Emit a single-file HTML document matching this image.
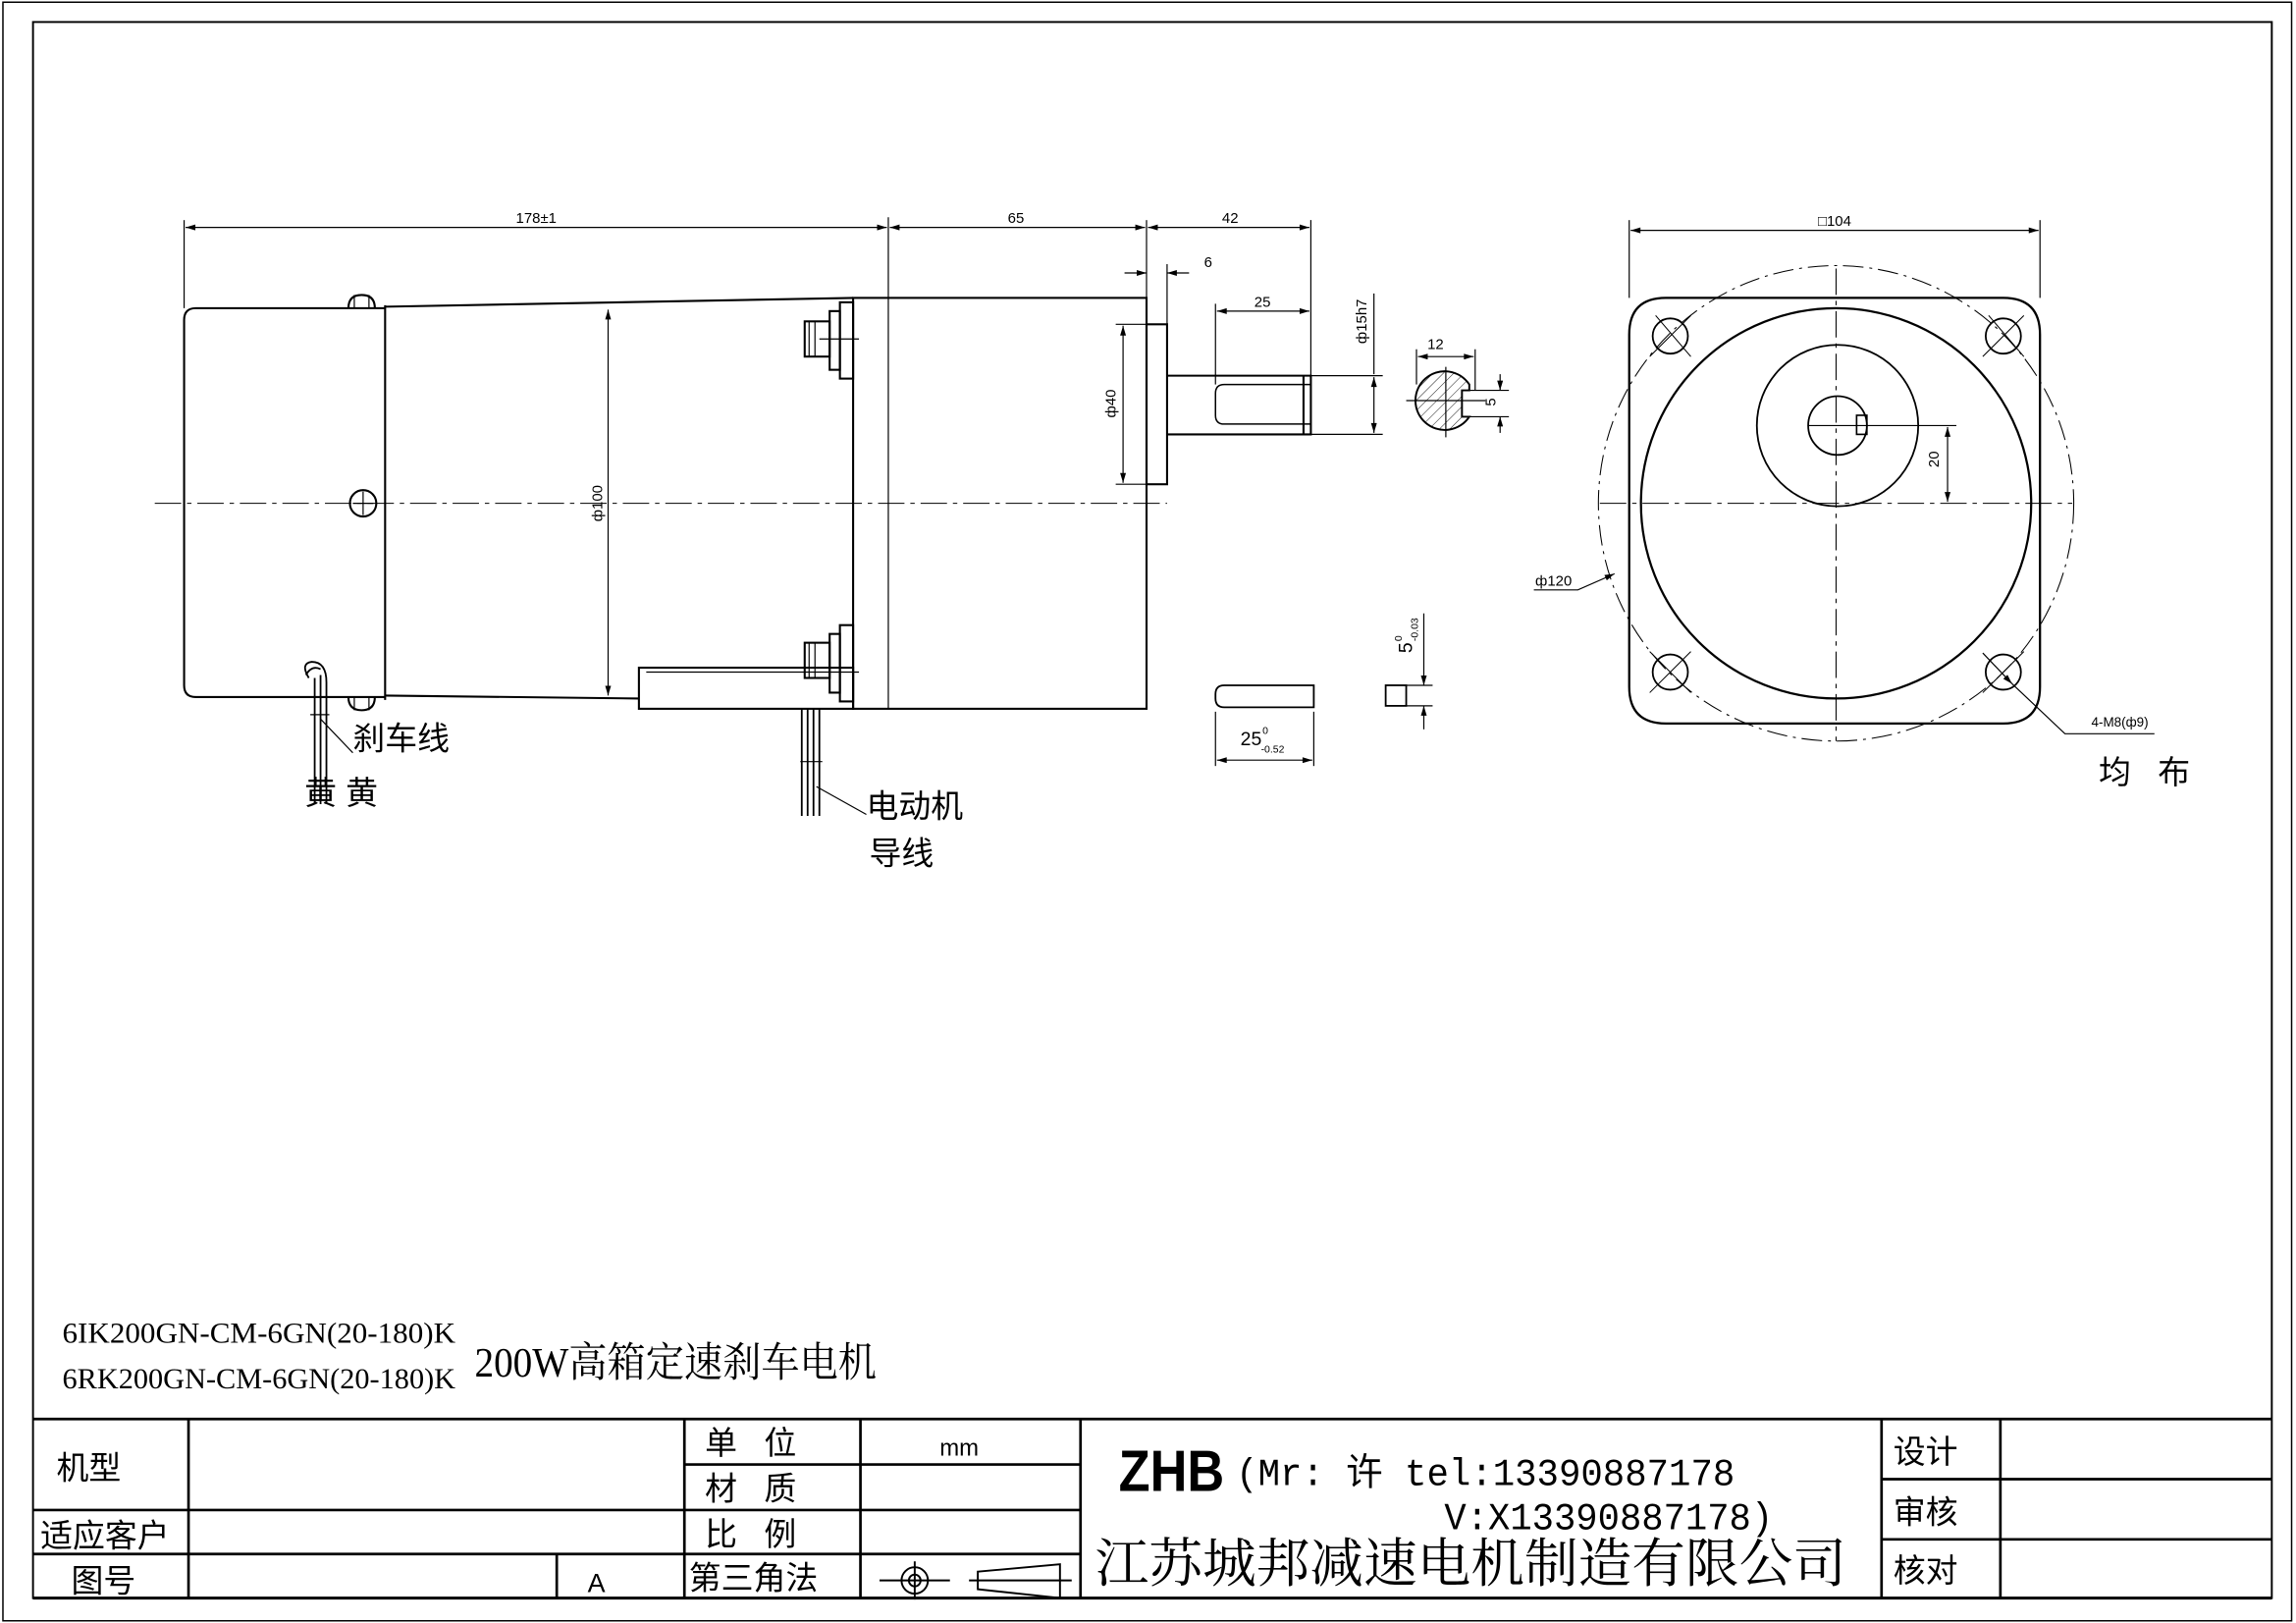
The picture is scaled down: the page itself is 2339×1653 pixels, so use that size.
<!DOCTYPE html>
<html><head><meta charset="utf-8"><style>html,body{margin:0;padding:0;background:#fff}svg{display:block}text{white-space:pre}</style></head>
<body>
<svg width="2339" height="1653" viewBox="0 0 1564 1106" xmlns="http://www.w3.org/2000/svg" font-family="Liberation Sans, Noto Sans CJK SC, sans-serif">
<defs>
<marker id="a" viewBox="0 0 10 6" refX="10" refY="3" markerWidth="8" markerHeight="4" orient="auto-start-reverse" markerUnits="userSpaceOnUse"><path d="M0,0L10,3L0,6z" fill="#000"/></marker>
<pattern id="h" width="5" height="5" patternUnits="userSpaceOnUse" patternTransform="rotate(45)"><line x1="0" y1="0" x2="0" y2="5" stroke="#000" stroke-width="0.6"/></pattern>
</defs>
<g fill="none" stroke="#000">
<rect x="1.5" y="1.5" width="1560" height="1103" stroke-width="1"/>
<rect x="22" y="15" width="1526" height="1074" stroke-width="1.3"/>
<g stroke-width="1.8">
<line x1="22" y1="967" x2="1548" y2="967"/>
<line x1="128" y1="967" x2="128" y2="1089"/>
<line x1="466" y1="967" x2="466" y2="1089"/>
<line x1="586" y1="967" x2="586" y2="1089"/>
<line x1="736" y1="967" x2="736" y2="1089"/>
<line x1="1282" y1="967" x2="1282" y2="1089"/>
<line x1="1363" y1="967" x2="1363" y2="1089"/>
<line x1="466" y1="998" x2="736" y2="998"/>
<line x1="22" y1="1029" x2="736" y2="1029"/>
<line x1="22" y1="1059" x2="736" y2="1059"/>
<line x1="379" y1="1059" x2="379" y2="1089"/>
<line x1="1282" y1="1008" x2="1548" y2="1008"/>
<line x1="1282" y1="1049" x2="1548" y2="1049"/>
<line x1="22" y1="1089" x2="1548" y2="1089" stroke-width="2"/>
</g>
<g stroke-width="1.3">
<circle cx="623" cy="1077" r="9"/><circle cx="623" cy="1077" r="4"/>
<line x1="599" y1="1077" x2="647" y2="1077"/><line x1="623" y1="1064" x2="623" y2="1090"/>
<path d="M666,1071L722,1066L722,1089L666,1083z"/><line x1="660" y1="1077" x2="730" y2="1077"/>
</g>

<line x1="105" y1="343" x2="795" y2="343" stroke-width="0.7" stroke-dasharray="18,4,3,4"/>
<g stroke-width="1.4">
<path d="M262,210L133,210Q125,210 125,218L125,467Q125,475 133,475L262,475"/>
<line x1="262" y1="208" x2="262" y2="477"/>
<path d="M262,209L581,203"/>
<path d="M262,474L435,476"/>
<path d="M237,210Q237,201 246,201Q255,201 255,210"/>
<path d="M237,475Q237,484 246,484Q255,484 255,475"/>
<circle cx="247" cy="343" r="9"/>
<rect x="435" y="455" width="146" height="28"/>
<rect x="581" y="203" width="200" height="280"/>
<rect x="781" y="221" width="14" height="109"/>
<path d="M795,256L893,256L893,296L795,296"/>
<line x1="888" y1="256" x2="888" y2="296"/>
<path d="M893,262L834,262Q828,262 828,268L828,283Q828,289 834,289L893,289" stroke-width="1"/>
<rect x="548" y="219" width="17" height="24"/><rect x="565" y="212" width="7" height="40"/><rect x="572" y="206" width="9" height="52"/>
<rect x="548" y="438" width="17" height="24"/><rect x="565" y="432" width="7" height="40"/><rect x="572" y="426" width="9" height="52"/>
</g>
<g stroke-width="0.8">
<line x1="240" y1="343" x2="254" y2="343"/><line x1="247" y1="335" x2="247" y2="351"/>
<line x1="241" y1="201" x2="241" y2="210"/><line x1="251" y1="201" x2="251" y2="210"/>
<line x1="241" y1="475" x2="241" y2="484"/><line x1="251" y1="475" x2="251" y2="484"/>
<line x1="551" y1="219" x2="551" y2="243"/><line x1="555" y1="219" x2="555" y2="243"/><line x1="558" y1="231" x2="585" y2="231"/>
<line x1="551" y1="438" x2="551" y2="462"/><line x1="555" y1="438" x2="555" y2="462"/><line x1="440" y1="458" x2="585" y2="458"/>
<line x1="605" y1="148" x2="605" y2="483"/>
<g stroke-width="1.2">
<path d="M210,462Q204,452 212,451Q222,451 222,465L222,548M214,462L214,548M218,460L218,548M208,460Q212,453 218,456"/>
<path d="M546,483L546,556M550,483L550,556M554,483L554,556M558,483L558,556"/>
</g>
<line x1="211" y1="487" x2="224" y2="487"/>
<line x1="218" y1="490" x2="240" y2="513"/>
<line x1="545" y1="519" x2="560" y2="519"/>
<line x1="556" y1="536" x2="590" y2="555"/>
<line x1="125" y1="150" x2="125" y2="210"/><line x1="781" y1="150" x2="781" y2="203"/><line x1="893" y1="150" x2="893" y2="256"/>
<line x1="126" y1="155" x2="604" y2="155" marker-start="url(#a)" marker-end="url(#a)"/>
<line x1="606" y1="155" x2="780" y2="155" marker-start="url(#a)" marker-end="url(#a)"/>
<line x1="782" y1="155" x2="892" y2="155" marker-start="url(#a)" marker-end="url(#a)"/>
<line x1="795" y1="180" x2="795" y2="221"/>
<line x1="766" y1="186" x2="781" y2="186" marker-end="url(#a)"/><line x1="810" y1="186" x2="795" y2="186" marker-end="url(#a)"/>
<line x1="828" y1="207" x2="828" y2="262"/>
<line x1="829" y1="212" x2="892" y2="212" marker-start="url(#a)" marker-end="url(#a)"/>
<line x1="893" y1="256" x2="942" y2="256"/><line x1="893" y1="296" x2="942" y2="296"/>
<line x1="936" y1="200" x2="936" y2="255" /><line x1="936" y1="257" x2="936" y2="295" marker-start="url(#a)" marker-end="url(#a)"/>
<line x1="760" y1="221" x2="781" y2="221"/><line x1="760" y1="330" x2="781" y2="330"/>
<line x1="765" y1="222" x2="765" y2="329" marker-start="url(#a)" marker-end="url(#a)"/>
<line x1="414" y1="211" x2="414" y2="474" marker-start="url(#a)" marker-end="url(#a)"/>
<path d="M895,467L834,467Q828,467 828,473L828,476Q828,482 834,482L895,482Z" stroke-width="1.2"/>
<line x1="828" y1="485" x2="828" y2="522"/><line x1="895" y1="485" x2="895" y2="522"/>
<line x1="829" y1="518" x2="894" y2="518" marker-start="url(#a)" marker-end="url(#a)"/>
<rect x="944" y="467" width="14" height="14" stroke-width="1.2"/>
<line x1="958" y1="467" x2="976" y2="467"/><line x1="958" y1="481" x2="976" y2="481"/>
<line x1="970" y1="418" x2="970" y2="467" marker-end="url(#a)"/><line x1="970" y1="497" x2="970" y2="481" marker-end="url(#a)"/>
<path d="M1001,262A20,20 0 1 0 1001,284L996,284L996,266L1001,266Z" fill="url(#h)" stroke-width="1.3"/>
<line x1="958" y1="273" x2="1012" y2="273"/><line x1="985" y1="250" x2="985" y2="298"/>
<line x1="965" y1="238" x2="965" y2="262"/><line x1="1005" y1="238" x2="1005" y2="266"/>
<line x1="966" y1="243" x2="1004" y2="243" marker-start="url(#a)" marker-end="url(#a)"/>
<line x1="996" y1="266" x2="1028" y2="266"/><line x1="996" y1="284" x2="1028" y2="284"/>
<line x1="1022" y1="255" x2="1022" y2="266" marker-end="url(#a)"/><line x1="1022" y1="295" x2="1022" y2="284" marker-end="url(#a)"/>
</g>

<g stroke-width="1.5">
<path d="M1135,203L1365,203Q1390,203 1390,228L1390,468Q1390,493 1365,493L1135,493Q1110,493 1110,468L1110,228Q1110,203 1135,203Z"/>
<circle cx="1251" cy="343" r="133"/>
<circle cx="1252" cy="290" r="55" stroke-width="1.2"/>
<circle cx="1252" cy="290" r="20" stroke-width="1.2"/>
<rect x="1265" y="283" width="7" height="13" stroke-width="1.1"/>
<circle cx="1138" cy="229" r="12" stroke-width="1.2"/><circle cx="1365" cy="229" r="12" stroke-width="1.2"/>
<circle cx="1138" cy="458" r="12" stroke-width="1.2"/><circle cx="1365" cy="458" r="12" stroke-width="1.2"/>
</g>
<g stroke-width="0.7">
<circle cx="1251" cy="343" r="162" stroke-dasharray="14,4,2,4"/>
<line x1="1090" y1="343" x2="1412" y2="343" stroke-dasharray="18,4,3,4"/>
<line x1="1251" y1="183" x2="1251" y2="505" stroke-dasharray="18,4,3,4"/>
<line x1="1128" y1="215" x2="1152" y2="243"/><line x1="1152" y1="215" x2="1124" y2="243"/>
<line x1="1355" y1="215" x2="1379" y2="243"/><line x1="1379" y1="215" x2="1351" y2="243"/>
<line x1="1124" y1="444" x2="1152" y2="472"/><line x1="1152" y1="444" x2="1124" y2="472"/>
<line x1="1379" y1="444" x2="1351" y2="472"/>
<line x1="1232" y1="290" x2="1333" y2="290"/>
</g>
<g stroke-width="0.8">
<line x1="1110" y1="150" x2="1110" y2="203"/><line x1="1390" y1="150" x2="1390" y2="203"/>
<line x1="1111" y1="157" x2="1389" y2="157" marker-start="url(#a)" marker-end="url(#a)"/>
<line x1="1327" y1="291" x2="1327" y2="342" marker-start="url(#a)" marker-end="url(#a)"/>
<polyline points="1045,402 1075,402 1100,391" marker-end="url(#a)"/>
<line x1="1351" y1="445" x2="1371" y2="466" marker-end="url(#a)"/>
<polyline points="1371,466 1407,500 1468,500"/>
</g>
</g>

<g fill="#000" font-size="10">
<text x="365" y="152" text-anchor="middle">178±1</text>
<text x="692" y="152" text-anchor="middle">65</text>
<text x="838" y="152" text-anchor="middle">42</text>
<text x="823" y="182" text-anchor="middle">6</text>
<text x="860" y="209" text-anchor="middle">25</text>
<text x="978" y="238" text-anchor="middle">12</text>
<text transform="translate(931,219) rotate(-90)" text-anchor="middle">ф15h7</text>
<text transform="translate(760,275) rotate(-90)" text-anchor="middle">ф40</text>
<text transform="translate(410,343) rotate(-90)" text-anchor="middle">ф100</text>
<text transform="translate(1019,274) rotate(-90)" text-anchor="middle">5</text>
<text transform="translate(1321,313) rotate(-90)" text-anchor="middle">20</text>
<text x="845" y="508" font-size="13">25</text><text x="860" y="500" font-size="7">0</text><text x="859" y="513" font-size="7">-0.52</text>
<text transform="translate(962,445) rotate(-90)" font-size="13">5</text>
<text transform="translate(955,437) rotate(-90)" font-size="7">0</text>
<text transform="translate(966,437) rotate(-90)" font-size="7">-0.03</text>
<text x="1250" y="154" text-anchor="middle">□104</text>
<text x="1046" y="399">ф120</text>
<text x="1425" y="495" font-size="9">4-M8(ф9)</text>
<text x="1430" y="534" font-size="22">均   布</text>
<text x="240" y="511" font-size="22">刹车线</text>
<text x="207" y="548" font-size="22">黄 黄</text>
<text x="590" y="557" font-size="22">电动机</text>
<text x="592" y="589" font-size="22">导线</text>
<text x="42" y="915" font-size="20" font-family="Liberation Serif, serif" textLength="268" lengthAdjust="spacingAndGlyphs">6IK200GN-CM-6GN(20-180)K</text>
<text x="42" y="946" font-size="20" font-family="Liberation Serif, serif" textLength="268" lengthAdjust="spacingAndGlyphs">6RK200GN-CM-6GN(20-180)K</text>
<text x="323" y="938" font-size="28" font-family="Liberation Serif, Noto Serif CJK SC, serif" textLength="274" lengthAdjust="spacingAndGlyphs">200W高箱定速刹车电机</text>
<text x="38" y="1008" font-size="22">机型</text>
<text x="27" y="1054" font-size="22">适应客户</text>
<text x="48" y="1085" font-size="22">图号</text>
<text x="400" y="1085" font-size="18">A</text>
<text x="480" y="991" font-size="22">单   位</text>
<text x="480" y="1022" font-size="22">材   质</text>
<text x="480" y="1053" font-size="22">比   例</text>
<text x="469" y="1083" font-size="22">第三角法</text>
<text x="640" y="992" font-size="16">mm</text>
<text x="762" y="1016" font-size="40" font-weight="bold" textLength="72" lengthAdjust="spacingAndGlyphs">ZHB</text>
<text x="842" y="1012" font-size="26" font-family="Liberation Mono, Noto Sans CJK SC, monospace" textLength="340" lengthAdjust="spacingAndGlyphs">(Mr: 许 tel:13390887178</text>
<text x="984" y="1042" font-size="26" font-family="Liberation Mono, monospace" textLength="224" lengthAdjust="spacingAndGlyphs">V:X13390887178)</text>
<text x="746" y="1078" font-size="36" font-family="Liberation Serif, Noto Serif CJK SC, serif" textLength="512" lengthAdjust="spacingAndGlyphs">江苏城邦减速电机制造有限公司</text>
<text x="1290" y="997" font-size="22">设计</text>
<text x="1290" y="1038" font-size="22">审核</text>
<text x="1290" y="1078" font-size="22">核对</text>
</g>
</svg>
</body></html>
